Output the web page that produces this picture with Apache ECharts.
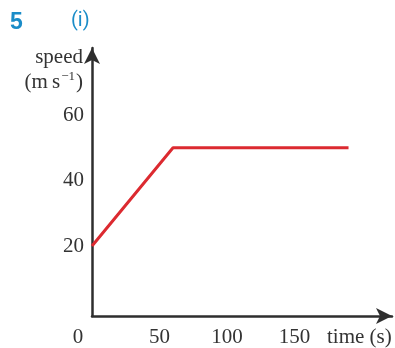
<!DOCTYPE html>
<html>
<head>
<meta charset="utf-8">
<style>
  html, body { margin: 0; padding: 0; background: #ffffff; }
  #chart { width: 395px; height: 348px; }
</style>
<script src="https://cdn.jsdelivr.net/npm/echarts@6/dist/echarts.min.js"></script>
</head>
<body>
<div id="chart"></div>
<script>
// Speed-time graph: speed rises from 20 to 50 m/s over 60 s, then stays constant.
const timePoints = [0, 60, 190];
const speedValues = [20, 50, 50];
const xTickLabels = [0, 50, 100, 150];
const yTickLabels = [20, 40, 60];

const serif = '"Liberation Serif", "DejaVu Serif", serif';
const axisColor = '#2e2e2e';
const textColor = '#333333';
const lineColor = '#dc2a30';
const blue = '#1a8cc8';
const labelMargin = 11;

const chart = echarts.init(document.getElementById('chart'), null, { renderer: 'canvas' });

chart.setOption({
  animation: false,
  backgroundColor: '#ffffff',
  grid: { left: 92, right: 3, top: 48, bottom: 28, containLabel: false },
  xAxis: {
    type: 'value',
    min: 0,
    max: 222.2,
    name: 'time (s)',
    nameLocation: 'end',
    nameGap: -65,
    nameTextStyle: {
      fontFamily: serif,
      fontSize: 21,
      color: textColor,
      align: 'left',
      verticalAlign: 'top',
      padding: [labelMargin, 0, 0, 0]
    },
    splitLine: { show: false },
    axisTick: { show: false },
    axisLine: {
      onZero: false,
      lineStyle: { color: axisColor, width: 2.5 },
      symbol: ['none', 'arrow'],
      symbolSize: [12, 16]
    },
    axisLabel: {
      customValues: xTickLabels,
      margin: labelMargin,
      color: textColor,
      fontFamily: serif,
      fontSize: 21,
      formatter: v => (v === 0 ? '{o|0}' : String(v)),
      rich: { o: { padding: [0, 28, 0, 0], fontFamily: serif, fontSize: 21, color: textColor } }
    }
  },
  yAxis: {
    type: 'value',
    min: -1.35,
    max: 80.45,
    splitLine: { show: false },
    axisTick: { show: false },
    axisLine: {
      onZero: false,
      lineStyle: { color: axisColor, width: 2.5 },
      symbol: ['none', 'arrow'],
      symbolSize: [12, 16]
    },
    axisLabel: {
      customValues: yTickLabels,
      margin: 8,
      color: textColor,
      fontFamily: serif,
      fontSize: 21
    }
  },
  graphic: [
    { type: 'text', left: 10, top: 11, style: { text: '5', font: 'bold 23px "Liberation Sans", Arial, sans-serif', fill: blue } },
    { type: 'text', left: 71, top: 11, style: { text: '(i)', font: '20px Roboto, "Liberation Sans", sans-serif', fill: blue } },
    { type: 'text', right: 312, top: 47, style: { text: 'speed', font: '21px ' + serif, fill: textColor, align: 'right' } },
    {
      type: 'text', right: 312, top: 70,
      style: {
        text: '(m\u2009s{sup|−1})',
        font: '21px ' + serif,
        fill: textColor,
        align: 'right',
        rich: { sup: { fontFamily: serif, fontSize: 13, verticalAlign: 'top', padding: [0, 1, 12, 1], fill: textColor } }
      }
    }
  ],
  series: [
    {
      type: 'line',
      data: timePoints.map((t, i) => [t, speedValues[i]]),
      showSymbol: false,
      lineStyle: { color: lineColor, width: 3 },
      silent: true
    }
  ]
});
</script>
</body>
</html>
